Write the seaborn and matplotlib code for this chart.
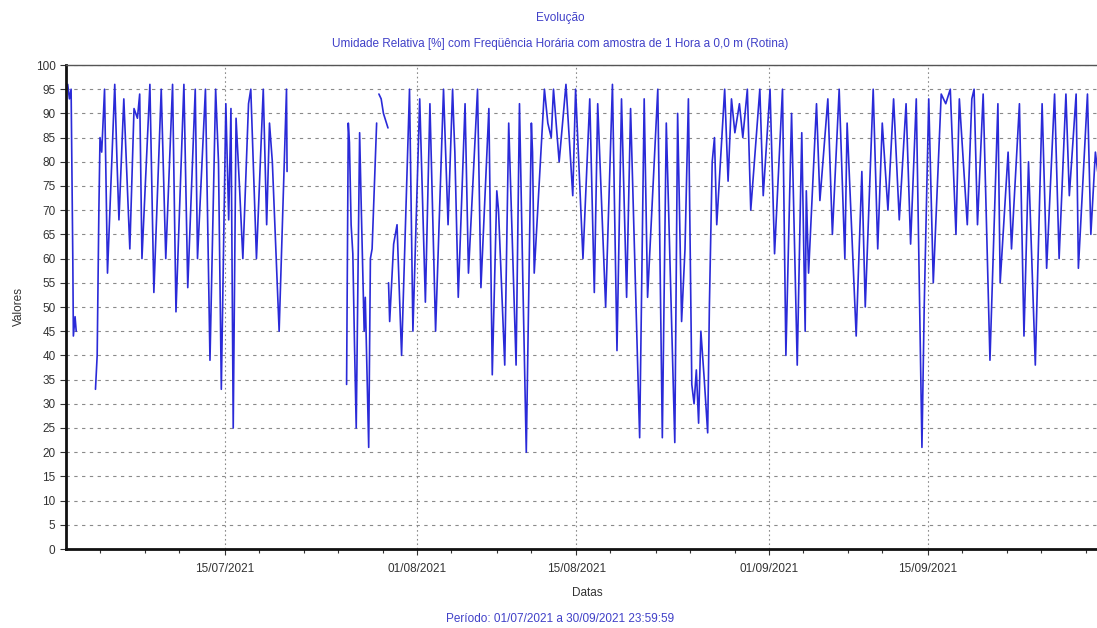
import numpy as np
import pandas as pd
import matplotlib
matplotlib.use("Agg")
import matplotlib.pyplot as plt
import matplotlib.dates as mdates
from matplotlib.ticker import FixedLocator
import seaborn as sns

# Umidade relativa: extremos diários (dias desde 01/07/2021 00:00, valor em %)
# cada trecho é contínuo; entre trechos há falhas de dados
trecho_1_dias = [0.15, 0.3, 0.45, 0.6, 0.65, 0.8, 0.9]
trecho_1_vals = [96, 93, 95, 60, 44, 48, 45]

trecho_2_dias = [2.6, 2.75, 2.9, 3.0, 3.15, 3.4, 3.66, 4.3, 4.5, 4.67, 5.1, 5.63, 6.0, 6.3, 6.5, 6.7,
                 7.4, 7.75, 8.4, 8.8, 9.4, 9.7, 10.4, 10.74, 11.4, 11.6, 12.3, 12.7, 13.2, 13.45,
                 13.7, 14.1, 14.35, 14.55, 14.75, 15.0, 15.3, 15.6, 16.1, 16.3, 16.8, 17.4, 17.7,
                 17.95, 18.2, 18.8, 19.45, 19.5]
trecho_2_vals = [33, 40, 70, 85, 82, 95, 57, 96, 80, 68, 93, 62, 91, 89, 94, 60,
                 96, 53, 95, 60, 96, 49, 96, 54, 95, 60, 95, 39, 95, 80,
                 33, 92, 68, 91, 25, 89, 75, 60, 92, 95, 60, 95, 67,
                 88, 80, 45, 95, 78]

trecho_3_dias = [24.75, 24.9, 25.0, 25.15, 25.3, 25.45, 25.6, 25.9, 26.05, 26.3, 26.4, 26.7,
                 26.85, 27.0, 27.4]
trecho_3_vals = [34, 88, 84, 67, 61, 42, 25, 86, 70, 45, 52, 21, 60, 62, 88]

trecho_4_dias = [27.6, 27.8, 28.0, 28.4]
trecho_4_vals = [94, 93, 90, 87]

trecho_5_dias = [28.45, 28.55, 28.9, 29.2, 29.3, 29.6, 30.3, 30.6, 31.2, 31.7, 32.1, 32.6, 33.3,
                 33.7, 34.1, 34.2, 34.3, 34.6, 35.2, 35.5, 36.3, 36.6, 37.3, 37.6, 38.0, 38.15,
                 38.7, 39.05, 39.7, 40.0, 40.3, 40.6, 41.05, 41.15, 41.3, 42.2, 42.5, 42.8, 43.0,
                 43.5, 44.1, 44.7, 44.95, 45.6, 46.2, 46.6, 46.9, 47.6, 48.2, 48.6, 49.0, 49.45,
                 49.8, 50.6, 51.0, 51.3, 52.2, 52.6, 52.95, 53.7, 53.95, 54.3, 54.6, 54.9, 55.2,
                 55.4, 55.6, 55.8, 56.0, 56.3, 56.6, 56.75, 57.0, 57.2, 57.4, 58.1, 58.4, 58.7,
                 59.0, 59.4, 59.7, 60.1, 60.4, 61.2, 61.5, 62.1, 62.5, 63.2, 63.5, 64.0, 64.5,
                 64.9, 65.2, 65.3, 65.5, 66.2, 66.5, 67.2, 67.6, 68.2, 68.7, 68.9, 69.7, 70.2,
                 70.5, 71.2, 71.6, 72.0, 72.5, 73.0, 73.5, 74.1, 74.5, 75.0, 75.5, 75.7, 76.1,
                 76.5, 77.2, 77.6, 78.0, 78.5, 78.8, 79.5, 79.9, 80.1, 80.4, 80.9, 81.5, 82.2,
                 82.4, 83.1, 83.4, 84.1, 84.5, 84.9, 85.5, 86.1, 86.5, 87.2, 87.6, 88.2, 88.5,
                 89.1, 89.3, 90.1, 90.4, 90.8, 91.0]
trecho_5_vals = [55, 47, 63, 67, 60, 40, 95, 45, 93, 51, 92, 45, 95,
                 67, 95, 88, 82, 52, 92, 57, 95, 54, 91, 36, 74, 70,
                 38, 88, 38, 92, 55, 20, 88, 82, 57, 95, 88, 85, 95,
                 80, 96, 73, 95, 60, 93, 53, 92, 50, 96, 41, 93, 52,
                 91, 23, 93, 52, 95, 23, 88, 22, 90, 47, 62, 93, 34,
                 30, 37, 26, 45, 35, 24, 50, 80, 85, 67, 95, 76, 93,
                 86, 92, 85, 95, 70, 95, 73, 95, 61, 95, 40, 90, 38,
                 86, 45, 74, 57, 92, 72, 93, 65, 95, 60, 88, 44, 78,
                 50, 95, 62, 88, 70, 93, 68, 92, 63, 93, 21, 50, 93,
                 55, 94, 92, 95, 65, 93, 67, 93, 95, 67, 94, 39, 92,
                 55, 82, 62, 92, 44, 80, 38, 92, 58, 94, 60, 94, 73,
                 94, 58, 94, 65, 82, 78]

tick_datas = ["2021-07-15", "2021-08-01", "2021-08-15", "2021-09-01", "2021-09-15"]

inicio = pd.Timestamp("2021-07-01")
trechos = [(trecho_1_dias, trecho_1_vals), (trecho_2_dias, trecho_2_vals),
           (trecho_3_dias, trecho_3_vals), (trecho_4_dias, trecho_4_vals),
           (trecho_5_dias, trecho_5_vals)]
partes = []
for i, (d, v) in enumerate(trechos):
    partes.append(pd.DataFrame({
        "data": inicio + pd.to_timedelta(np.array(d) * 24, unit="h"),
        "valor": v,
        "trecho": i,
    }))
df = pd.concat(partes, ignore_index=True)

sns.set_style("white")
plt.rcParams['font.family'] = ['Liberation Sans', 'DejaVu Sans']

azul = "#2a2ad8"
azul_txt = "#4040c8"
cinza = "#333333"

fig = plt.figure(figsize=(10.97, 6.28), dpi=100)
ax = fig.add_axes([66 / 1097, 79 / 628, (1109 - 66) / 1097, (549 - 65) / 628])

# uma linha por trecho, para não ligar as falhas
sns.lineplot(data=df, x="data", y="valor", units="trecho", estimator=None,
             color=azul, lw=1.2, ax=ax, legend=False)

ax.set_xlim(pd.Timestamp("2021-07-01"), pd.Timestamp("2021-10-01"))
ax.set_ylim(0, 100)
ax.set_yticks(np.arange(0, 101, 5))
ax.xaxis.set_major_locator(FixedLocator(mdates.date2num(pd.to_datetime(tick_datas))))
ax.xaxis.set_major_formatter(mdates.DateFormatter("%d/%m/%Y"))
ax.xaxis.set_minor_locator(mdates.DayLocator(bymonthday=[4, 8, 11, 18, 22, 25, 29]))

ax.grid(axis="y", which="major", color="#8a8a8a", ls=(0, (3, 4)), lw=0.8)
ax.grid(axis="x", which="major", color="#8a8a8a", ls=(0, (1.5, 2.5)), lw=0.8)

ax.tick_params(axis="both", which="major", direction="out", length=4, width=0.8,
               colors=cinza, labelsize=8.5, labelcolor=cinza, bottom=True, left=True)
ax.tick_params(axis="x", which="minor", direction="out", length=3, width=0.8,
               colors=cinza, bottom=True)
ax.tick_params(axis="x", pad=6)

for s in ["left", "bottom"]:
    ax.spines[s].set_color("#111111")
    ax.spines[s].set_linewidth(2.0)
ax.spines["top"].set_color("#555555")
ax.spines["top"].set_linewidth(1.0)
ax.spines["right"].set_visible(False)

ax.set_xlabel("Datas", fontsize=8.5, color=cinza, labelpad=9)
ax.set_ylabel("Valores", fontsize=8.5, color=cinza, labelpad=8)

fig.text(560 / 1097, 1 - 18 / 628, "Evolução", ha="center", va="center",
         fontsize=8.5, color=azul_txt)
fig.text(560 / 1097, 1 - 44 / 628,
         "Umidade Relativa [%] com Freqüência Horária com amostra de 1 Hora a 0,0 m (Rotina)",
         ha="center", va="center", fontsize=8.5, color=azul_txt)
fig.text(560 / 1097, 1 - 619 / 628, "Período: 01/07/2021 a 30/09/2021 23:59:59",
         ha="center", va="center", fontsize=8.5, color=azul_txt)

fig.savefig("out.png", dpi=100, facecolor="white")
